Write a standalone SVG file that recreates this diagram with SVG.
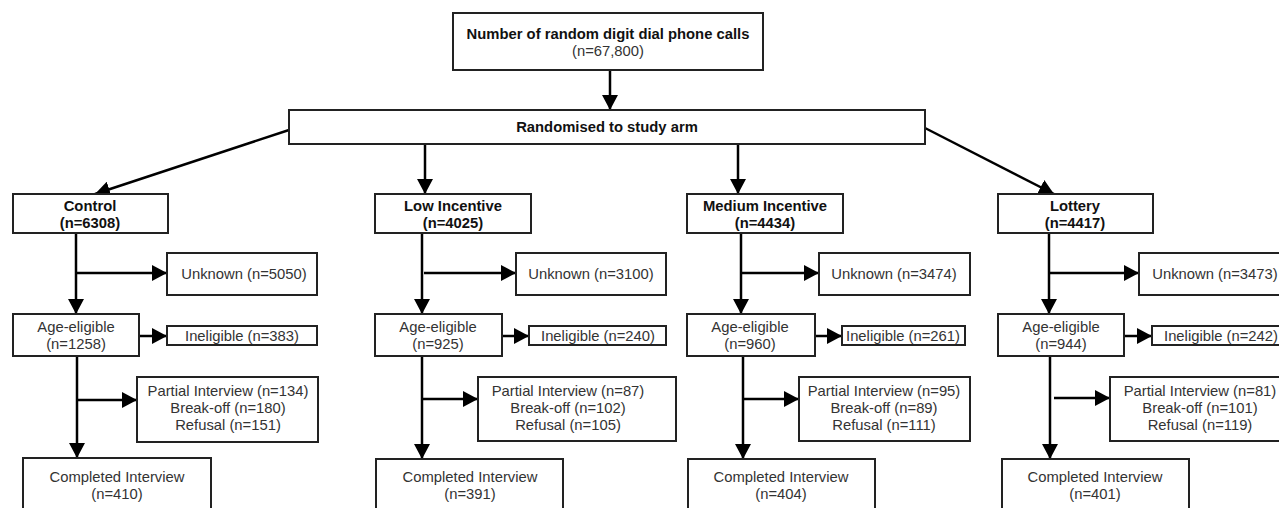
<svg xmlns="http://www.w3.org/2000/svg" width="1279" height="508" viewBox="0 0 1279 508">
<style>
.box{fill:#fff;stroke:#222;stroke-width:2}
.t{font-family:"Liberation Sans",Arial,sans-serif;font-size:14.8px;fill:#333;text-anchor:middle}
.b{font-weight:bold;fill:#111}
.c{fill:none;stroke:#000;stroke-width:2.5}
</style>
<defs>
<marker id="ah" markerUnits="userSpaceOnUse" markerWidth="16" markerHeight="16" refX="15" refY="8" orient="auto">
<path d="M0,0 L15,8 L0,16 Z" fill="#000"/>
</marker>
</defs>
<rect width="1279" height="508" fill="#fff"/>
<g id="connectors">
<line class="c" x1="610" y1="70" x2="610" y2="110" marker-end="url(#ah)"/>
<line class="c" x1="289" y1="130" x2="95" y2="194" marker-end="url(#ah)"/>
<line class="c" x1="425" y1="144" x2="425" y2="194" marker-end="url(#ah)"/>
<line class="c" x1="738" y1="144" x2="738" y2="194" marker-end="url(#ah)"/>
<line class="c" x1="925" y1="128" x2="1054" y2="194" marker-end="url(#ah)"/>
<!-- control -->
<line class="c" x1="76" y1="233" x2="76" y2="314" marker-end="url(#ah)"/>
<line class="c" x1="76" y1="273" x2="167" y2="273" marker-end="url(#ah)"/>
<line class="c" x1="139" y1="336" x2="167" y2="336" marker-end="url(#ah)"/>
<line class="c" x1="77" y1="356" x2="77" y2="458" marker-end="url(#ah)"/>
<line class="c" x1="77" y1="400" x2="137" y2="400" marker-end="url(#ah)"/>
<!-- low -->
<line class="c" x1="422" y1="233" x2="422" y2="314" marker-end="url(#ah)"/>
<line class="c" x1="424" y1="273" x2="516" y2="273" marker-end="url(#ah)"/>
<line class="c" x1="502" y1="336" x2="529" y2="336" marker-end="url(#ah)"/>
<line class="c" x1="422" y1="356" x2="422" y2="459" marker-end="url(#ah)"/>
<line class="c" x1="422" y1="399" x2="478" y2="399" marker-end="url(#ah)"/>
<!-- medium -->
<line class="c" x1="741" y1="233" x2="741" y2="314" marker-end="url(#ah)"/>
<line class="c" x1="741" y1="273" x2="819" y2="273" marker-end="url(#ah)"/>
<line class="c" x1="815" y1="336" x2="842" y2="336" marker-end="url(#ah)"/>
<line class="c" x1="743" y1="356" x2="743" y2="459" marker-end="url(#ah)"/>
<line class="c" x1="743" y1="399" x2="799" y2="399" marker-end="url(#ah)"/>
<!-- lottery -->
<line class="c" x1="1049" y1="233" x2="1049" y2="314" marker-end="url(#ah)"/>
<line class="c" x1="1049" y1="273" x2="1139" y2="273" marker-end="url(#ah)"/>
<line class="c" x1="1124" y1="336" x2="1152" y2="336" marker-end="url(#ah)"/>
<line class="c" x1="1050" y1="356" x2="1050" y2="459" marker-end="url(#ah)"/>
<line class="c" x1="1054" y1="398" x2="1110" y2="398" marker-end="url(#ah)"/>
</g>
<g id="calls"><rect class="box" x="453" y="13" width="310" height="57"/>
<text class="t b" x="608" y="39">Number of random digit dial phone calls</text>
<text class="t" x="608" y="56">(n=67,800)</text></g>
<g id="randomised"><rect class="box" x="289" y="110" width="636" height="34"/>
<text class="t b" x="607" y="132">Randomised to study arm</text></g>

<g id="control"><rect class="box" x="13" y="194" width="155" height="39"/>
<text class="t b" x="90" y="211">Control</text><text class="t b" x="90" y="228">(n=6308)</text></g>
<g id="control-unknown"><rect class="box" x="167" y="253" width="150" height="42"/>
<text class="t" x="244" y="279">Unknown (n=5050)</text></g>
<g id="control-age"><rect class="box" x="13" y="314" width="126" height="42"/>
<text class="t" x="76" y="332">Age-eligible</text><text class="t" x="76" y="349">(n=1258)</text></g>
<g id="control-inel"><rect class="box" x="167" y="326" width="150" height="19"/>
<text class="t" x="242" y="341">Ineligible (n=383)</text></g>
<g id="control-partial"><rect class="box" x="137" y="377" width="181" height="65"/>
<text class="t" x="228" y="396">Partial Interview (n=134)</text><text class="t" x="228" y="413">Break-off (n=180)</text><text class="t" x="228" y="430">Refusal (n=151)</text></g>
<g id="control-complete"><rect class="box" x="23" y="458" width="188" height="60"/>
<text class="t" x="117" y="482">Completed Interview</text><text class="t" x="117" y="499">(n=410)</text></g>

<g id="low"><rect class="box" x="375" y="194" width="156" height="39"/>
<text class="t b" x="453" y="211">Low Incentive</text><text class="t b" x="453" y="228">(n=4025)</text></g>
<g id="low-unknown"><rect class="box" x="516" y="253" width="150" height="42"/>
<text class="t" x="591" y="279">Unknown (n=3100)</text></g>
<g id="low-age"><rect class="box" x="375" y="314" width="127" height="42"/>
<text class="t" x="438" y="332">Age-eligible</text><text class="t" x="438" y="349">(n=925)</text></g>
<g id="low-inel"><rect class="box" x="529" y="326" width="137" height="19"/>
<text class="t" x="598" y="341">Ineligible (n=240)</text></g>
<g id="low-partial"><rect class="box" x="478" y="377" width="198" height="64"/>
<text class="t" x="568" y="396">Partial Interview (n=87)</text><text class="t" x="568" y="413">Break-off (n=102)</text><text class="t" x="568" y="430">Refusal (n=105)</text></g>
<g id="low-complete"><rect class="box" x="376" y="459" width="187" height="60"/>
<text class="t" x="470" y="482">Completed Interview</text><text class="t" x="470" y="499">(n=391)</text></g>

<g id="medium"><rect class="box" x="687" y="194" width="156" height="39"/>
<text class="t b" x="765" y="211">Medium Incentive</text><text class="t b" x="765" y="228">(n=4434)</text></g>
<g id="medium-unknown"><rect class="box" x="819" y="253" width="151" height="42"/>
<text class="t" x="894" y="279">Unknown (n=3474)</text></g>
<g id="medium-age"><rect class="box" x="687" y="314" width="128" height="42"/>
<text class="t" x="750" y="332">Age-eligible</text><text class="t" x="750" y="349">(n=960)</text></g>
<g id="medium-inel"><rect class="box" x="842" y="326" width="123" height="19"/>
<text class="t" x="903" y="341">Ineligible (n=261)</text></g>
<g id="medium-partial"><rect class="box" x="799" y="377" width="171" height="64"/>
<text class="t" x="884" y="396">Partial Interview (n=95)</text><text class="t" x="884" y="413">Break-off (n=89)</text><text class="t" x="884" y="430">Refusal (n=111)</text></g>
<g id="medium-complete"><rect class="box" x="688" y="459" width="187" height="60"/>
<text class="t" x="781" y="482">Completed Interview</text><text class="t" x="781" y="499">(n=404)</text></g>

<g id="lottery"><rect class="box" x="998" y="194" width="155" height="39"/>
<text class="t b" x="1075" y="211">Lottery</text><text class="t b" x="1075" y="228">(n=4417)</text></g>
<g id="lottery-unknown"><rect class="box" x="1139" y="253" width="152" height="42"/>
<text class="t" x="1215" y="279">Unknown (n=3473)</text></g>
<g id="lottery-age"><rect class="box" x="998" y="314" width="126" height="42"/>
<text class="t" x="1061" y="332">Age-eligible</text><text class="t" x="1061" y="349">(n=944)</text></g>
<g id="lottery-inel"><rect class="box" x="1152" y="326" width="138" height="19"/>
<text class="t" x="1221" y="341">Ineligible (n=242)</text></g>
<g id="lottery-partial"><rect class="box" x="1110" y="377" width="180" height="64"/>
<text class="t" x="1200" y="396">Partial Interview (n=81)</text><text class="t" x="1200" y="413">Break-off (n=101)</text><text class="t" x="1200" y="430">Refusal (n=119)</text></g>
<g id="lottery-complete"><rect class="box" x="1002" y="459" width="187" height="60"/>
<text class="t" x="1095" y="482">Completed Interview</text><text class="t" x="1095" y="499">(n=401)</text></g>
</svg>
